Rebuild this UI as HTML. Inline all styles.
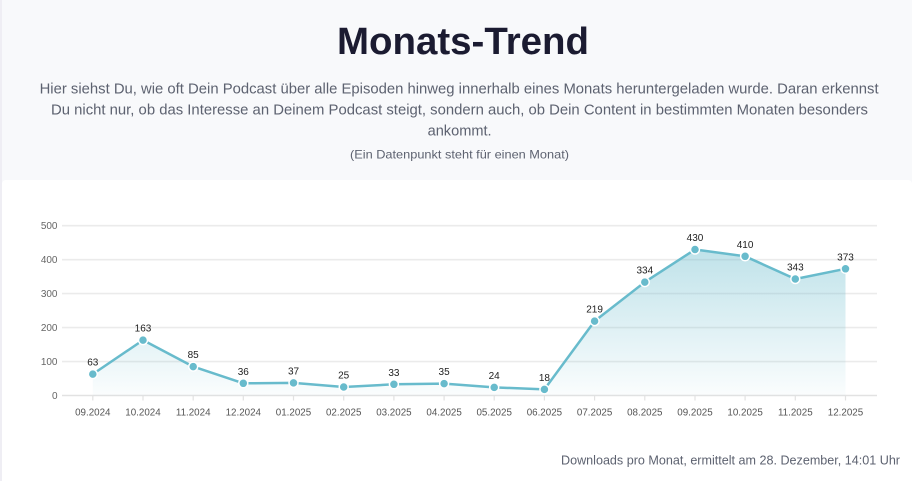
<!DOCTYPE html>
<html><head><meta charset="utf-8"><style>
html,body{margin:0;padding:0;background:#f8f9fb;}
svg{display:block;}
</style></head><body>
<svg width="912" height="481" viewBox="0 0 912 481" xmlns="http://www.w3.org/2000/svg" font-family="'Liberation Sans', Arial, sans-serif">
<defs>
<linearGradient id="ag" gradientUnits="userSpaceOnUse" x1="0" y1="249.5" x2="0" y2="395.5">
<stop offset="0" stop-color="#68bbcc" stop-opacity="0.42"/>
<stop offset="1" stop-color="#68bbcc" stop-opacity="0.03"/>
</linearGradient>
</defs>
<rect x="0" y="0" width="912" height="481" fill="#f8f9fb"/>
<rect x="0" y="0" width="2" height="481" fill="#efeef4"/>
<rect x="2" y="180" width="910" height="301" rx="4" fill="#ffffff"/>
<rect x="2" y="186" width="910" height="295" fill="#ffffff"/>

<text x="463" y="54" text-anchor="middle" font-size="38" font-weight="bold" fill="#1b1b31" textLength="252" lengthAdjust="spacingAndGlyphs">Monats-Trend</text>
<g fill="#5d6270" font-size="14.5">
<text x="39.6" y="93.5" textLength="839" lengthAdjust="spacingAndGlyphs">Hier siehst Du, wie oft Dein Podcast über alle Episoden hinweg innerhalb eines Monats heruntergeladen wurde. Daran erkennst</text>
<text x="51" y="114.5" textLength="817" lengthAdjust="spacingAndGlyphs">Du nicht nur, ob das Interesse an Deinem Podcast steigt, sondern auch, ob Dein Content in bestimmten Monaten besonders</text>
<text x="427.6" y="135.5" textLength="64" lengthAdjust="spacingAndGlyphs">ankommt.</text>
</g>
<text x="350" y="158.3" font-size="12" fill="#5d6270" textLength="219" lengthAdjust="spacingAndGlyphs">(Ein Datenpunkt steht für einen Monat)</text>

<g stroke="#ebebeb" stroke-width="1.6">
<line x1="62" y1="225.7" x2="877" y2="225.7"/>
<line x1="62" y1="259.7" x2="877" y2="259.7"/>
<line x1="62" y1="293.6" x2="877" y2="293.6"/>
<line x1="62" y1="327.6" x2="877" y2="327.6"/>
<line x1="62" y1="361.6" x2="877" y2="361.6"/>
</g>
<line x1="62" y1="395.5" x2="877" y2="395.5" stroke="#e2e2e2" stroke-width="1.6"/>
<g stroke="#e2e2e2" stroke-width="1.2">
<line x1="92.8" y1="395.5" x2="92.8" y2="400.5"/>
<line x1="143.0" y1="395.5" x2="143.0" y2="400.5"/>
<line x1="193.2" y1="395.5" x2="193.2" y2="400.5"/>
<line x1="243.3" y1="395.5" x2="243.3" y2="400.5"/>
<line x1="293.5" y1="395.5" x2="293.5" y2="400.5"/>
<line x1="343.7" y1="395.5" x2="343.7" y2="400.5"/>
<line x1="393.9" y1="395.5" x2="393.9" y2="400.5"/>
<line x1="444.1" y1="395.5" x2="444.1" y2="400.5"/>
<line x1="494.2" y1="395.5" x2="494.2" y2="400.5"/>
<line x1="544.4" y1="395.5" x2="544.4" y2="400.5"/>
<line x1="594.6" y1="395.5" x2="594.6" y2="400.5"/>
<line x1="644.8" y1="395.5" x2="644.8" y2="400.5"/>
<line x1="695.0" y1="395.5" x2="695.0" y2="400.5"/>
<line x1="745.1" y1="395.5" x2="745.1" y2="400.5"/>
<line x1="795.3" y1="395.5" x2="795.3" y2="400.5"/>
<line x1="845.5" y1="395.5" x2="845.5" y2="400.5"/>
</g>

<g font-size="10" fill="#666" text-anchor="end">
<text x="57.5" y="229.2">500</text>
<text x="57.5" y="263.2">400</text>
<text x="57.5" y="297.1">300</text>
<text x="57.5" y="331.1">200</text>
<text x="57.5" y="365.1">100</text>
<text x="57.5" y="399">0</text>
</g>

<g font-size="9.8" fill="#555" text-anchor="middle">
<text x="92.8" y="415.5">09.2024</text>
<text x="143.0" y="415.5">10.2024</text>
<text x="193.2" y="415.5">11.2024</text>
<text x="243.3" y="415.5">12.2024</text>
<text x="293.5" y="415.5">01.2025</text>
<text x="343.7" y="415.5">02.2025</text>
<text x="393.9" y="415.5">03.2025</text>
<text x="444.1" y="415.5">04.2025</text>
<text x="494.2" y="415.5">05.2025</text>
<text x="544.4" y="415.5">06.2025</text>
<text x="594.6" y="415.5">07.2025</text>
<text x="644.8" y="415.5">08.2025</text>
<text x="695.0" y="415.5">09.2025</text>
<text x="745.1" y="415.5">10.2025</text>
<text x="795.3" y="415.5">11.2025</text>
<text x="845.5" y="415.5">12.2025</text>
</g>

<path d="M92.8,374.1 L143.0,340.15 L193.2,366.6 L243.3,383.3 L293.5,382.9 L343.7,387.0 L393.9,384.3 L444.1,383.6 L494.2,387.35 L544.4,389.4 L594.6,321.1 L644.8,282.1 L695.0,249.5 L745.1,256.3 L795.3,279.0 L845.5,268.8 L845.5,395.5 L92.8,395.5 Z" fill="url(#ag)"/>
<polyline points="92.8,374.1 143.0,340.15 193.2,366.6 243.3,383.3 293.5,382.9 343.7,387.0 393.9,384.3 444.1,383.6 494.2,387.35 544.4,389.4 594.6,321.1 644.8,282.1 695.0,249.5 745.1,256.3 795.3,279.0 845.5,268.8" fill="none" stroke="#68bbcc" stroke-width="2.5" stroke-linejoin="round"/>

<g fill="#68bbcc" stroke="#ffffff" stroke-width="1.5">
<circle cx="92.8" cy="374.1" r="4.5"/>
<circle cx="143.0" cy="340.15" r="4.5"/>
<circle cx="193.2" cy="366.6" r="4.5"/>
<circle cx="243.3" cy="383.3" r="4.5"/>
<circle cx="293.5" cy="382.9" r="4.5"/>
<circle cx="343.7" cy="387.0" r="4.5"/>
<circle cx="393.9" cy="384.3" r="4.5"/>
<circle cx="444.1" cy="383.6" r="4.5"/>
<circle cx="494.2" cy="387.35" r="4.5"/>
<circle cx="544.4" cy="389.4" r="4.5"/>
<circle cx="594.6" cy="321.1" r="4.5"/>
<circle cx="644.8" cy="282.1" r="4.5"/>
<circle cx="695.0" cy="249.5" r="4.5"/>
<circle cx="745.1" cy="256.3" r="4.5"/>
<circle cx="795.3" cy="279.0" r="4.5"/>
<circle cx="845.5" cy="268.8" r="4.5"/>
</g>

<g font-size="10" fill="#222" text-anchor="middle">
<text x="92.8" y="365.6">63</text>
<text x="143.0" y="331.6">163</text>
<text x="193.2" y="358.1">85</text>
<text x="243.3" y="374.8">36</text>
<text x="293.5" y="374.4">37</text>
<text x="343.7" y="378.5">25</text>
<text x="393.9" y="375.8">33</text>
<text x="444.1" y="375.1">35</text>
<text x="494.2" y="378.8">24</text>
<text x="544.4" y="380.9">18</text>
<text x="594.6" y="312.6">219</text>
<text x="644.8" y="273.6">334</text>
<text x="695.0" y="241.0">430</text>
<text x="745.1" y="247.8">410</text>
<text x="795.3" y="270.5">343</text>
<text x="845.5" y="260.3">373</text>
</g>

<text x="561" y="464.5" font-size="12.5" fill="#5d6270" textLength="339" lengthAdjust="spacingAndGlyphs">Downloads pro Monat, ermittelt am 28. Dezember, 14:01 Uhr</text>
</svg>
</body></html>
